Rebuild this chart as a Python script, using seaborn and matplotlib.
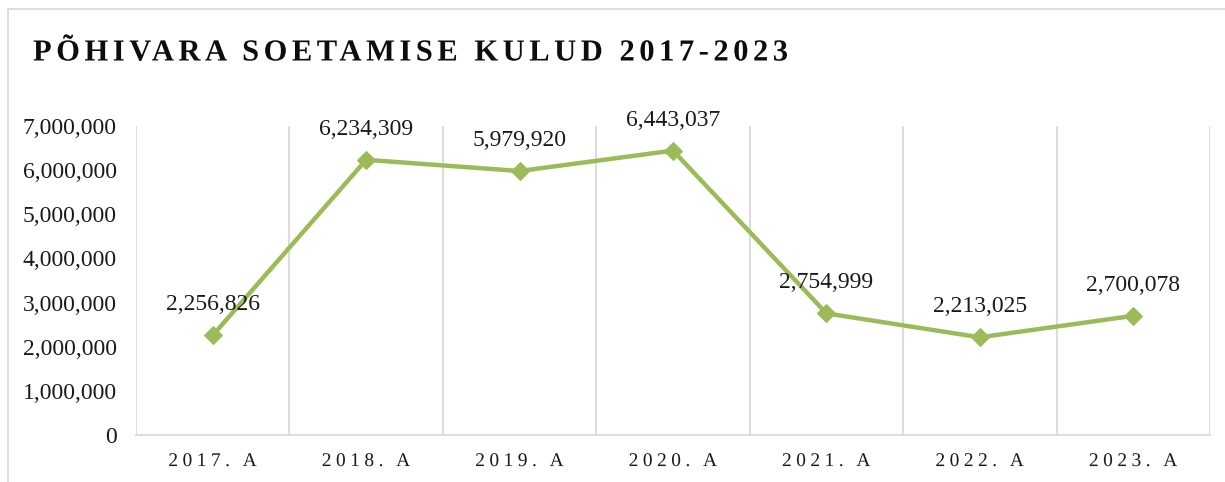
import matplotlib
matplotlib.use("Agg")
import numpy as np
import matplotlib.pyplot as plt
import seaborn as sns
import pandas as pd
from matplotlib.lines import Line2D
from matplotlib.ticker import FuncFormatter, FixedLocator
from matplotlib.patheffects import AbstractPathEffect
from matplotlib.path import Path
from matplotlib.textpath import text_to_path

years = ["2017. A", "2018. A", "2019. A", "2020. A", "2021. A", "2022. A", "2023. A"]
values = [2256826, 6234309, 5979920, 6443037, 2754999, 2213025, 2700078]
y_ticks = [0, 1000000, 2000000, 3000000, 4000000, 5000000, 6000000, 7000000]
title = "PÕHIVARA SOETAMISE KULUD 2017-2023"


class LetterSpacing(AbstractPathEffect):
    """Draws a text with extra space between its characters (text stays a real Text)."""

    def __init__(self, text_obj, spacing_em, center=False):
        super().__init__()
        self.t = text_obj
        self.sp = spacing_em
        self.center = center

    def draw_path(self, renderer, gc, tpath, affine, rgbFace=None):
        try:
            s = self.t.get_text()
            font = text_to_path._get_font(self.t.get_fontproperties())
            font.set_size(text_to_path.FONT_SCALE, text_to_path.DPI)
            info, _, _ = text_to_path.get_glyphs_with_font(font, s)
            xs = np.array([g[1] for g in info], dtype=float)
            n = len(xs)
            sp = self.sp * text_to_path.FONT_SCALE
            verts = np.array(tpath.vertices, dtype=float).copy()
            codes = np.asarray(tpath.codes)
            starts = np.where(codes == Path.MOVETO)[0].tolist() + [len(codes)]
            off0 = (n - 1) / 2 * sp if self.center else 0.0
            for a, b in zip(starts[:-1], starts[1:]):
                m = codes[a:b] != Path.CLOSEPOLY
                seg = verts[a:b, 0][m]
                if len(seg) == 0:
                    continue
                cx = 0.5 * (seg.min() + seg.max())
                i = max(0, int(np.searchsorted(xs, cx, side="right")) - 1)
                verts[a:b, 0] += i * sp - off0
            renderer.draw_path(gc, Path(verts, codes), affine, rgbFace)
        except Exception:
            renderer.draw_path(gc, tpath, affine, rgbFace)


sns.set_theme(style="white")
plt.rcParams['font.family'] = ['Liberation Serif', 'DejaVu Serif']

W, H = 1225, 482
fig = plt.figure(figsize=(W / 100, H / 100), dpi=100)
ax = fig.add_axes([136 / W, 1 - 435 / H, (1210 - 136) / W, (435 - 126) / H])

df = pd.DataFrame({"year": years, "value": values})
green = "#9BBB59"
sns.lineplot(data=df, x="year", y="value", ax=ax, color=green, linewidth=3.2,
             marker="D", markersize=9, markeredgecolor=green, markerfacecolor=green,
             sort=False)

ax.set_ylim(0, 7000000)
ax.set_xlim(-0.5, len(years) - 0.5)
ax.yaxis.set_major_locator(FixedLocator(y_ticks))
ax.yaxis.set_major_formatter(FuncFormatter(lambda v, p: f"{int(v):,}"))
ax.set_xticks(range(len(years)))
ax.set_xticklabels(years)
ax.xaxis.set_minor_locator(FixedLocator([i - 0.5 for i in range(len(years) + 1)]))
ax.grid(False)
ax.grid(which="minor", axis="x", color="#D9D9D9", linewidth=1.3)
ax.tick_params(axis="y", length=0, pad=14, labelsize=17, labelcolor="#1a1a1a")
ax.tick_params(axis="x", which="major", length=0, pad=13, labelsize=14, labelcolor="#1a1a1a")
ax.tick_params(axis="x", which="minor", length=0)
ax.set_xlabel("")
ax.set_ylabel("")
for s in ["top", "right", "left"]:
    ax.spines[s].set_visible(False)
ax.spines["bottom"].set_color("#D9D9D9")
ax.spines["bottom"].set_linewidth(1.3)

for lab in ax.get_xticklabels():
    lab.set_path_effects([LetterSpacing(lab, 0.23, center=True)])

for i, v in enumerate(values):
    ax.annotate(f"{v:,}", xy=(i, v), xytext=(0, 22), textcoords="offset points",
                ha="center", va="center", fontsize=17, color="#1a1a1a")

t = fig.text(33 / W, 1 - 53 / H, title, fontsize=22, fontweight="bold",
             ha="left", va="center", color="#0d0d0d")
t.set_path_effects([LetterSpacing(t, 0.148)])

# outer chart frame (top and left edges visible)
fig.add_artist(Line2D([8 / W, 1.0], [1 - 9 / H, 1 - 9 / H], transform=fig.transFigure,
                      color="#D9D9D9", linewidth=1.3))
fig.add_artist(Line2D([8 / W, 8 / W], [0.0, 1 - 9 / H], transform=fig.transFigure,
                      color="#D9D9D9", linewidth=1.3))

fig.savefig("out.png", dpi=100)
